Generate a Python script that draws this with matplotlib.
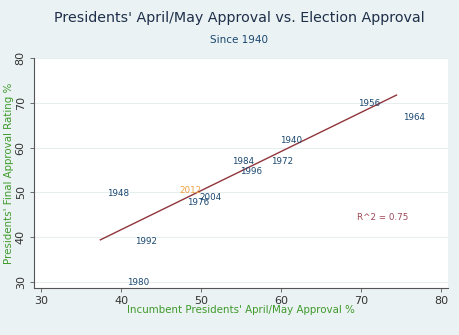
import numpy as np
import matplotlib
matplotlib.use("Agg")
import matplotlib.pyplot as plt

# April/May approval (x) and final approval (y) by election year
years = ["1940", "1948", "1956", "1964", "1972", "1976", "1980",
         "1984", "1992", "1996", "2004"]
april_may = [59.1, 37.4, 68.8, 74.45, 57.9, 47.4, 39.9, 53.1, 40.9, 54.0, 49.0]
final = [61.6, 49.8, 69.9, 66.8, 56.8, 47.8, 29.9, 56.9, 38.9, 54.7, 48.9]

year_now = "2012"
april_may_now = 46.4
final_now = 50.4

r2_text = "R^2 = 0.75"

bg = "#eaf2f3"
navy = "#1a476f"
green = "#3f9a2c"
maroon = "#90353b"

fig = plt.figure(figsize=(4.6, 3.35), dpi=100, facecolor=bg)
ax = fig.add_axes([0.074, 0.140, 0.900, 0.687])
ax.set_facecolor("white")

x = np.array(april_may)
y = np.array(final)

# linear fit over the historical points
slope, icept = np.polyfit(x, y, 1)
xs = np.array([x.min(), x.max()])
ax.plot(xs, icept + slope * xs, color=maroon, lw=1.0, zorder=3)

for yr, xi, yi in zip(years, april_may, final):
    ax.annotate(yr, (xi, yi), xytext=(4.8, 0), textcoords="offset points",
                ha="left", va="center", fontsize=6.3, color=navy, zorder=4)
ax.annotate(year_now, (april_may_now, final_now), xytext=(4.8, 0),
            textcoords="offset points", ha="left", va="center",
            fontsize=6.3, color="#f0a040", zorder=4)

ax.text(72.7, 44.3, r2_text, ha="center", va="center", fontsize=6.3,
        color="#a04557")

ax.set_xlim(29.1, 80.9)
ax.set_ylim(28.6, 79.9)
ax.set_xticks([30, 40, 50, 60, 70, 80])
ax.set_yticks([30, 40, 50, 60, 70, 80])
ax.yaxis.grid(True, color="#e6eef0", lw=0.8)
ax.set_axisbelow(True)
for s in ["top", "right"]:
    ax.spines[s].set_visible(False)
for s in ["left", "bottom"]:
    ax.spines[s].set_color("#555555")
    ax.spines[s].set_linewidth(0.8)
ax.tick_params(axis="both", labelsize=8, colors="#555555", length=3,
               width=0.6, labelcolor="#333333", pad=3)
for lab in ax.get_yticklabels():
    lab.set_rotation(90)
    lab.set_va("center")

ax.set_xlabel("Incumbent Presidents' April/May Approval %", fontsize=7.4,
              color=green, labelpad=-1)
ax.set_ylabel("Presidents' Final Approval Rating %", fontsize=7.4,
              color=green, labelpad=1)

fig.text(0.52, 0.945, "Presidents' April/May Approval vs. Election Approval",
         ha="center", va="center", fontsize=10.3, color="#1f2f4a")
fig.text(0.52, 0.882, "Since 1940", ha="center", va="center",
         fontsize=7.5, color=navy)

fig.savefig("out.png", dpi=100, facecolor=bg)
